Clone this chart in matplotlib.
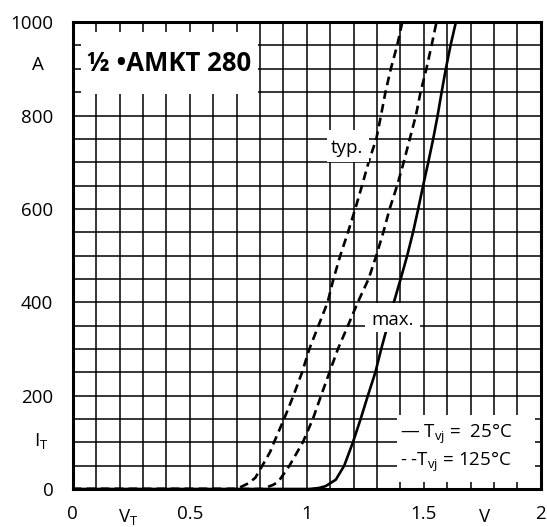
import matplotlib
matplotlib.use("Agg")
import matplotlib.pyplot as plt
from matplotlib.ticker import MultipleLocator
from matplotlib.patches import Rectangle
import matplotlib.transforms as mtransforms

plt.rcParams['font.family'] = ['Open Sans', 'DejaVu Sans']
plt.rcParams['mathtext.fontset'] = 'custom'
plt.rcParams['mathtext.rm'] = 'Open Sans'
plt.rcParams['mathtext.it'] = 'Open Sans:italic'
plt.rcParams['mathtext.bf'] = 'Open Sans:bold'

# On-state characteristic i_T = f(v_T)
typ_125_v = [0.0, 0.70, 0.75, 0.78, 0.81, 0.843, 0.86, 0.903, 0.943, 0.98, 1.011, 1.05, 1.089,
             1.114, 1.143, 1.176, 1.207, 1.236, 1.264, 1.297, 1.317, 1.336, 1.359, 1.386, 1.408]
typ_125_i = [0, 0, 12, 24, 50, 79, 100, 150, 200, 250, 300, 350, 400,
             450, 500, 550, 600, 650, 700, 750, 800, 850, 900, 950, 1000]

max_125_v = [0.0, 0.81, 0.857, 0.879, 0.926, 0.983, 1.026, 1.061, 1.097, 1.133, 1.176, 1.218,
             1.264, 1.297, 1.327, 1.354, 1.386, 1.414, 1.44, 1.466, 1.486, 1.511, 1.533, 1.554]
max_125_i = [0, 0, 9, 16, 50, 100, 150, 200, 250, 300, 350, 400,
             450, 500, 550, 600, 650, 700, 750, 800, 850, 900, 950, 1000]

max_25_v = [0.0, 1.01, 1.05, 1.08, 1.124, 1.16, 1.197, 1.23, 1.261, 1.293, 1.318, 1.345, 1.372,
            1.401, 1.429, 1.454, 1.476, 1.497, 1.519, 1.54, 1.559, 1.576, 1.594, 1.614, 1.637]
max_25_i = [0, 0, 2, 6, 20, 50, 100, 150, 200, 250, 300, 350, 400,
            450, 500, 550, 600, 650, 700, 750, 800, 850, 900, 950, 1000]

x_ticks = [0, 0.5, 1, 1.5, 2]
x_tick_labels = ['0', '0.5', '1', '1.5', '2']
y_ticks = [0, 200, 400, 600, 800, 1000]
y_tick_labels = ['0', '200', '400', '600', '800', '1000']

FS = 13.5

fig = plt.figure(figsize=(5.47, 5.27), dpi=100)
ax = fig.add_axes([0.1329, 0.0721, 0.9888 - 0.1329, 0.958 - 0.0721])
ax.set_xlim(0, 2)
ax.set_ylim(0, 1000)

ax.xaxis.set_minor_locator(MultipleLocator(0.1))
ax.yaxis.set_minor_locator(MultipleLocator(50))
ax.set_xticks(x_ticks)
ax.set_xticklabels(x_tick_labels)
ax.set_yticks(y_ticks)
ax.set_yticklabels(y_tick_labels)
ax.grid(which='both', color='black', linewidth=1.1)
ax.tick_params(which='both', length=0)
ax.tick_params(axis='x', pad=11.5, labelsize=FS)
ax.tick_params(axis='y', pad=14, labelsize=FS)
ax.set_axisbelow(True)
for sp in ax.spines.values():
    sp.set_linewidth(2.2)
    sp.set_zorder(10)

# unit and quantity labels placed among the tick labels
yt = mtransforms.blended_transform_factory(ax.transAxes, ax.transData)
xt = mtransforms.blended_transform_factory(ax.transData, ax.transAxes)
ax.text(-0.074, 908, 'A', transform=yt, ha='center', va='center', fontsize=FS)
ax.text(-0.068, 103, r'I$_\mathrm{T}$', transform=yt, ha='center', va='center', fontsize=FS)
ax.text(0.235, -0.0705, r'V$_\mathrm{T}$', transform=xt, ha='center', va='baseline', fontsize=FS)
ax.text(1.76, -0.0705, 'V', transform=xt, ha='center', va='baseline', fontsize=FS)

lw = 1.9
ax.plot(typ_125_v, typ_125_i, color='black', lw=lw, dashes=(3.3, 2.0), zorder=3)
ax.plot(max_125_v, max_125_i, color='black', lw=lw, dashes=(3.3, 2.0), zorder=3)
ax.plot(max_25_v, max_25_i, color='black', lw=lw, zorder=3)

# title panel
ax.add_patch(Rectangle((0.035, 846), 0.755, 132, facecolor='white', edgecolor='none', zorder=4))
ax.text(0.062, 912, '½ •AMKT 280', ha='left', va='center', fontsize=18.5,
        fontweight='bold', zorder=5)

# curve annotations
ax.add_patch(Rectangle((1.085, 700), 0.18, 68, facecolor='white', edgecolor='none', zorder=4))
ax.text(1.173, 730, 'typ.', ha='center', va='center', fontsize=FS, zorder=5)
ax.add_patch(Rectangle((1.248, 336), 0.235, 62, facecolor='white', edgecolor='none', zorder=4))
ax.text(1.367, 362, 'max.', ha='center', va='center', fontsize=FS, zorder=5)

# temperature key
ax.add_patch(Rectangle((1.384, 16), 0.59, 142, facecolor='white', edgecolor='none', zorder=4))
ax.text(1.40, 118, r'— T$_\mathrm{vj}$ =  25°C', ha='left', va='center', fontsize=FS, zorder=5)
ax.text(1.40, 58, r'- -T$_\mathrm{vj}$ = 125°C', ha='left', va='center', fontsize=FS, zorder=5)

fig.savefig('out.png', dpi=100, facecolor='white')
